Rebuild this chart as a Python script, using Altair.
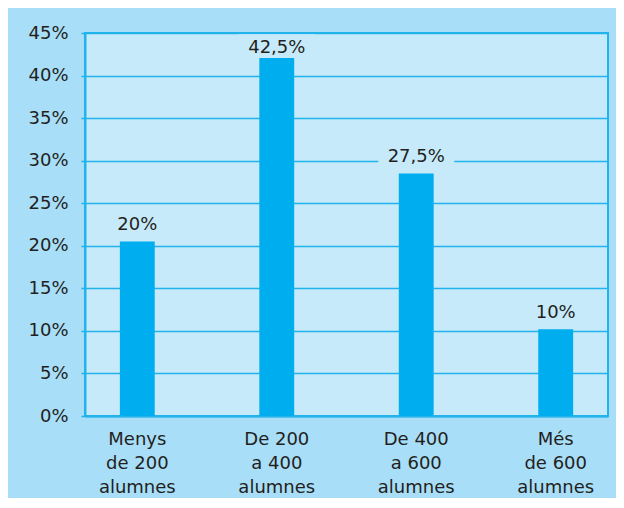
import altair as alt
import pandas as pd

categories = ["Menys\nde 200\nalumnes", "De 200\na 400\nalumnes",
              "De 400\na 600\nalumnes", "Més\nde 600\nalumnes"]
values = [20.5, 42.3, 28.5, 10.2]
labels = ["20%", "42,5%", "27,5%", "10%"]
y_ticks = [0, 5, 10, 15, 20, 25, 30, 35, 40, 45]

df = pd.DataFrame({"cat": categories, "v": values, "lab": labels})

FONT = "DejaVu Sans"
TEXT = "#231f20"
OUTER = "#a8def8"
INNER = "#c6eafa"
LINE = "#22b3ec"
BAR = "#00aeef"

x = alt.X("cat:N", sort=categories,
          scale=alt.Scale(paddingInner=0.75, paddingOuter=0.25),
          axis=alt.Axis(title=None, labelAngle=0, ticks=False, domain=True,
                        domainColor=LINE, domainWidth=2,
                        labelExpr="split(datum.label, '\\n')",
                        labelLineHeight=24, labelPadding=14,
                        labelBaseline="top",
                        labelFont=FONT, labelFontSize=18, labelColor=TEXT))
y_scale = alt.Scale(domain=[0, 45], nice=False)

base = alt.Chart(df).transform_calculate(
    ly="min(datum.v + 1.3, 42.65)"
).transform_calculate(
    b0="datum.ly - 0.6", b1="datum.ly + 2.2"
)

bars = base.mark_bar(color=BAR).encode(
    x=x,
    y=alt.Y("v:Q", scale=y_scale,
            axis=alt.Axis(title=None, values=y_ticks,
                          labelExpr="datum.value + '%'",
                          grid=True, gridColor=LINE, gridWidth=1.6,
                          domain=True, domainColor=LINE, domainWidth=2,
                          ticks=True, tickSize=4, tickColor=LINE, tickWidth=1.6,
                          labelPadding=13,
                          labelFont=FONT, labelFontSize=18, labelColor=TEXT)),
)

boxes = base.mark_bar(color=INNER, size=76).encode(
    x=alt.X("cat:N", sort=categories),
    y=alt.Y("b0:Q", scale=y_scale),
    y2="b1:Q",
)

texts = base.mark_text(baseline="alphabetic", align="center", font=FONT,
                       fontSize=18, color=TEXT).encode(
    x=alt.X("cat:N", sort=categories),
    y=alt.Y("ly:Q", scale=y_scale),
    text="lab:N",
)

chart = alt.layer(bars, boxes, texts).properties(
    width=523, height=383,
    autosize=alt.AutoSizeParams(type="none"),
    padding={"left": 77, "top": 25, "right": 8, "bottom": 82},
    background=OUTER,
).configure_view(
    fill=INNER, stroke=LINE, strokeWidth=2
)

chart.save("out.html", embed_options={"renderer": "svg", "actions": False})
